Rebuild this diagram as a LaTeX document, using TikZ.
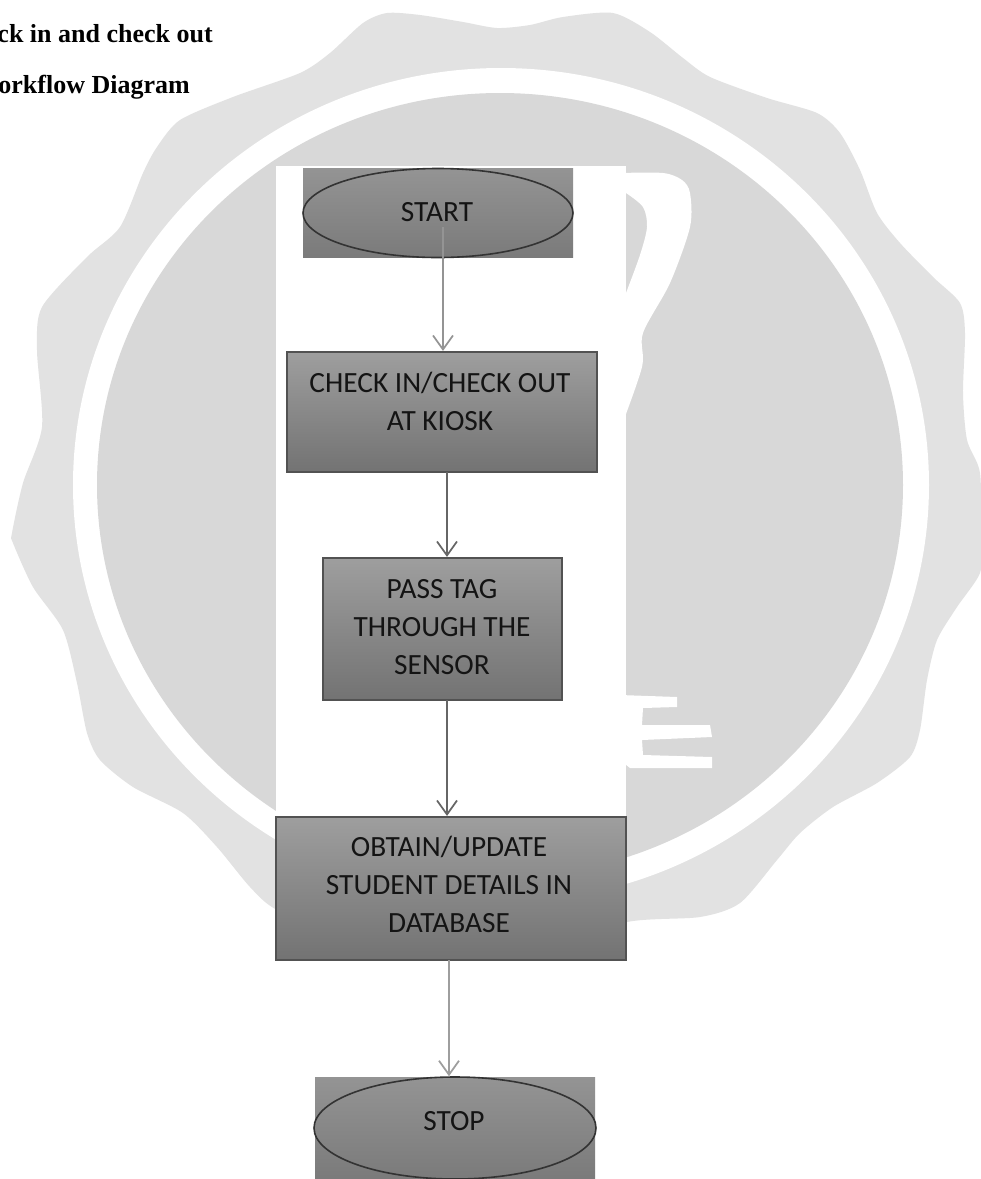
\documentclass[tikz,border=0pt]{standalone}
\usepackage{fontspec}
\setmainfont{Carlito}
\newfontfamily\titlefont{Liberation Serif}
\usetikzlibrary{shapes.geometric,arrows.meta}
\tikzset{
  x=0.75pt,y=-0.75pt,
  backplate/.style={rectangle,draw=none,inner sep=0pt,top color=#1,bottom color=black!52},
  flowbox/.style={rectangle,draw=black!68,line width=1.6pt,inner sep=0pt,top color=black!38,bottom color=black!55},
  terminal/.style={ellipse,draw=black!80,line width=1.2pt,inner sep=0pt,top color=black!42,bottom color=black!52},
  boxlabel/.style={font=\fontsize{22}{28.6}\selectfont,align=center,text=black!92,inner sep=0pt},
  heading/.style={font=\titlefont\bfseries\fontsize{19.5}{22}\selectfont,anchor=base east,inner sep=0pt,text=black},
  flowlink/.style={draw=#1,line width=1.3pt,-{Straight Barb[length=10.5pt,width=15pt,line width=1.3pt]}},
  flowlink/.default=black!55
}
\definecolor{sealouter}{HTML}{E2E2E2}
\definecolor{sealinner}{HTML}{D8D8D8}
\begin{document}
\begin{tikzpicture}
\useasboundingbox (0,0) rectangle (981,1179);
\fill[white] (0,0) rectangle (981,1179);
% watermark seal
\fill[sealouter] plot[smooth cycle,tension=0.45] coordinates {
 (387,13)(420,15)(463,22)(497,28)(530,25)(563,17)(613,13)(650,32)(683,58)(710,77)
 (767,98)(817,113)(840,133)(860,170)(877,213)(900,243)(933,277)(960,303)(965,333)(963,393)
 (967,440)(980,473)(981,540)(980,573)(957,607)(937,640)(927,680)(920,730)(910,757)(877,783)
 (833,807)(800,833)(777,860)(740,903)(700,917)(627,922)(540,950)(450,950)(350,940)(277,910)
 (250,887)(217,847)(183,813)(133,787)(100,760)(87,733)(77,683)(63,630)(33,587)(13,543)
 (12,533)(23,483)(42,427)(37,350)(42,307)(87,257)(120,227)(143,173)(157,147)(180,120)
 (233,97)(300,73)(330,53)(363,23)};
\fill[white] (501,485) ellipse [x radius=428,y radius=417];
\fill[sealinner] (500,485) ellipse [x radius=403,y radius=392];
% pieces of the emblem in the seal
\fill[white] plot[smooth,tension=0.5] coordinates {(620,173)(663,173)(682,180)(690,193)(690,227)(670,283)(643,333)(642,367)(620,430)}
  -- (620,293) -- plot[smooth,tension=0.5] coordinates {(626,293)(640,255)(647,227)(643,207)(626,193)} -- (620,193) -- cycle;
\fill[white] (620,695) -- (677,697) -- (677,707) -- (643,708) -- (642,725) -- (710,725) -- (712,737)
  -- (642,740) -- (643,755) -- (712,757) -- (712,768) -- (630,768) -- (620,760) -- cycle;
% panel behind the flow chart
\fill[white] (276,166) rectangle (626,830);
% title
\node[heading] (titleA) at (213,42) {ck in and check out};
\node[heading] (titleB) at (190,93) {orkflow Diagram};
% START
\node[backplate=black!42,minimum width=270*0.75pt,minimum height=89*0.75pt] (startplate) at (438,212.5) {};
\node[terminal,minimum width=270*0.75pt,minimum height=89*0.75pt] (start) at (438,213) {};
\node[boxlabel] (startlabel) at (437,212) {START};
% process boxes
\node[flowbox,minimum width=310*0.75pt,minimum height=120*0.75pt] (kiosk) at (442,412) {};
\node[boxlabel] (kiosklabel) at (440,401) {CHECK IN/CHECK OUT\\AT KIOSK};
\node[flowbox,minimum width=239*0.75pt,minimum height=142*0.75pt] (sensor) at (442.5,629) {};
\node[boxlabel] (sensorlabel) at (442,627) {PASS TAG\\THROUGH THE\\SENSOR};
\node[flowbox,minimum width=350*0.75pt,minimum height=143*0.75pt] (database) at (451,888.5) {};
\node[boxlabel] (databaselabel) at (449,884.5) {OBTAIN/UPDATE\\STUDENT DETAILS IN\\DATABASE};
% STOP
\node[backplate=black!42,minimum width=280*0.75pt,minimum height=102*0.75pt] (stopplate) at (455,1128) {};
\node[terminal,minimum width=282*0.75pt,minimum height=102*0.75pt] (stop) at (455,1128) {};
\node[boxlabel] (stoplabel) at (454,1121) {STOP};
% connectors
\coordinate (startout) at (443,227);
\coordinate (sensorin) at (447,472);
\coordinate (dbin) at (447,700);
\coordinate (stopin) at (449,960);
\draw[flowlink=black!42] (startout) -- (startout |- kiosk.north);
\draw[flowlink=black!60,line width=1.7pt] (sensorin) -- (sensorin |- sensor.north);
\draw[flowlink=black!60,line width=1.7pt] (dbin) -- (dbin |- database.north);
\draw[flowlink=black!38] (stopin) -- (stopin |- stop.north);
\end{tikzpicture}
\end{document}
